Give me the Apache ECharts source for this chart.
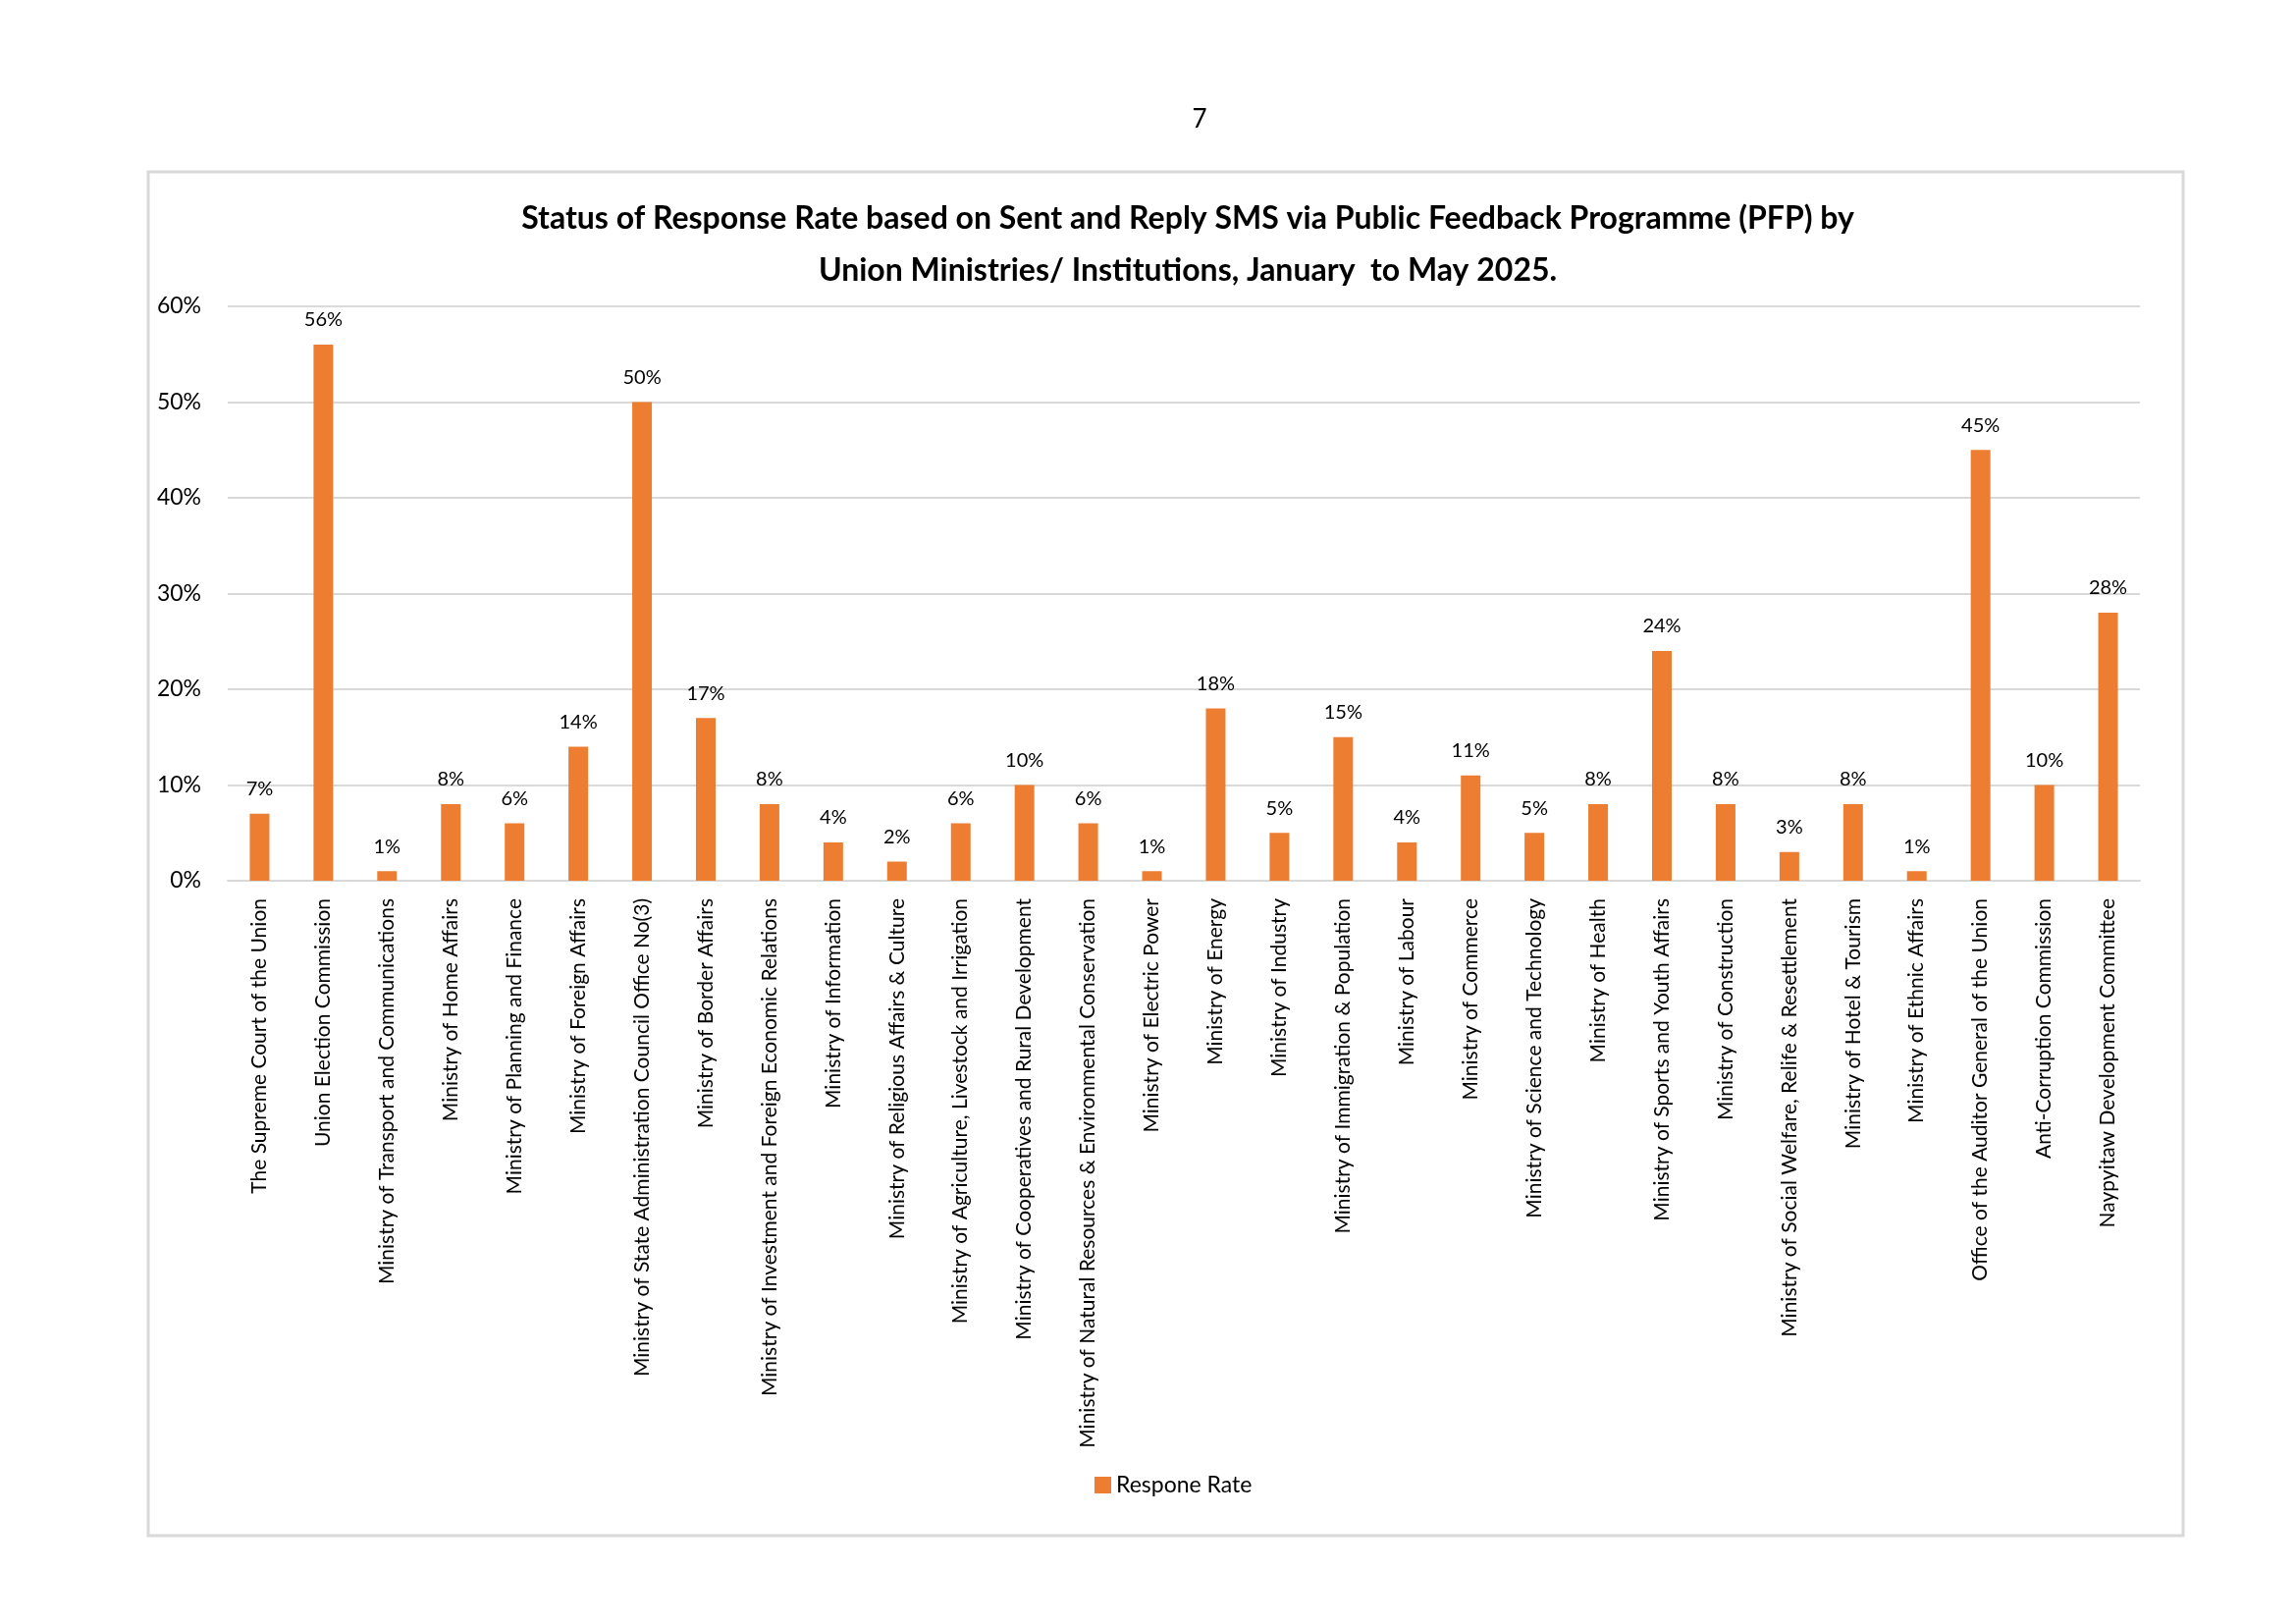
<!DOCTYPE html>
<html>
<head>
<meta charset="utf-8">
<title>Response Rate PFP</title>
<script src="https://cdn.jsdelivr.net/npm/echarts@6/dist/echarts.min.js"></script>
<style>
  html, body { margin: 0; padding: 0; background: #fff; }
  #chart { width: 2339px; height: 1654px; }
</style>
</head>
<body>
<div id="chart"></div>
<script>
// categories (x axis)
const ministries = [
  'The Supreme Court of the Union',
  'Union Election Commission',
  'Ministry of Transport and Communications',
  'Ministry of Home Affairs',
  'Ministry of Planning and Finance',
  'Ministry of Foreign Affairs',
  'Ministry of State Administration Council Office No(3)',
  'Ministry of Border Affairs',
  'Ministry of Investment and Foreign Economic Relations',
  'Ministry of Information',
  'Ministry of Religious Affairs & Culture',
  'Ministry of Agriculture, Livestock and Irrigation',
  'Ministry of Cooperatives and Rural Development',
  'Ministry of Natural Resources & Environmental Conservation',
  'Ministry of Electric Power',
  'Ministry of Energy',
  'Ministry of Industry',
  'Ministry of Immigration & Population',
  'Ministry of Labour',
  'Ministry of Commerce',
  'Ministry of Science and Technology',
  'Ministry of Health',
  'Ministry of Sports and Youth Affairs',
  'Ministry of Construction',
  'Ministry of Social Welfare, Relife & Resettlement',
  'Ministry of Hotel & Tourism',
  'Ministry of Ethnic Affairs',
  'Office of the Auditor General of the Union',
  'Anti-Corruption Commission',
  'Naypyitaw Development Committee'
];

// response rate in percent
const responseRate = [
  7, 56, 1, 8, 6, 14, 50, 17, 8, 4,
  2, 6, 10, 6, 1, 18, 5, 15, 4, 11,
  5, 8, 24, 8, 3, 8, 1, 45, 10, 28
];

const yTicks = [0, 10, 20, 30, 40, 50, 60];

const titleLines = [
  'Status of Response Rate based on Sent and Reply SMS via Public Feedback Programme (PFP) by',
  'Union Ministries/ Institutions, January  to May 2025.'
];
const seriesName = 'Respone Rate';
const pageNumber = '7';

const font = 'Lato';
const chart = echarts.init(document.getElementById('chart'));

chart.setOption({
  backgroundColor: '#fff',
  animation: false,
  textStyle: { fontFamily: font, color: '#000' },
  title: [
    {
      text: pageNumber,
      left: 1217, top: 104, textAlign: 'center',
      textStyle: { fontFamily: font, fontSize: 26, fontWeight: 'normal', color: '#000' }
    },
    {
      text: titleLines.join('\n'),
      left: 1205, top: 191, textAlign: 'center',
      textStyle: { fontFamily: font, fontSize: 32, fontWeight: 'bold', color: '#000', lineHeight: 53 }
    }
  ],
  graphic: [
    {
      type: 'rect',
      shape: { x: 151, y: 175, width: 2073, height: 1389 },
      style: { fill: 'none', stroke: '#d9d9d9', lineWidth: 3 },
      silent: true
    }
  ],
  legend: {
    data: [seriesName],
    left: 1110, top: 1496,
    icon: 'rect', itemWidth: 17, itemHeight: 17, itemGap: 10,
    textStyle: { fontFamily: font, fontSize: 23, color: '#000' }
  },
  grid: { left: 232, right: 159, top: 312, bottom: 757, containLabel: false },
  xAxis: {
    type: 'category',
    data: ministries,
    axisLine: { show: true, lineStyle: { color: '#d9d9d9', width: 2 } },
    axisTick: { show: false },
    axisLabel: {
      interval: 0, rotate: 90, margin: 18,
      fontFamily: font, fontSize: 21, color: '#000'
    }
  },
  yAxis: {
    type: 'value',
    min: yTicks[0], max: yTicks[yTicks.length - 1], interval: 10,
    axisLine: { show: false },
    axisTick: { show: false },
    splitLine: { lineStyle: { color: '#d9d9d9', width: 2 } },
    axisLabel: {
      margin: 27, fontFamily: font, fontSize: 23, color: '#000',
      padding: [0, 0, 8, 0],
      formatter: v => v + '%'
    }
  },
  series: [
    {
      name: seriesName,
      type: 'bar',
      data: responseRate,
      barWidth: 20,
      itemStyle: { color: '#ED7D31' },
      label: {
        show: true, position: 'top', distance: 15,
        fontFamily: font, fontSize: 20, color: '#000',
        formatter: p => p.value + '%'
      }
    }
  ]
});
</script>
</body>
</html>
